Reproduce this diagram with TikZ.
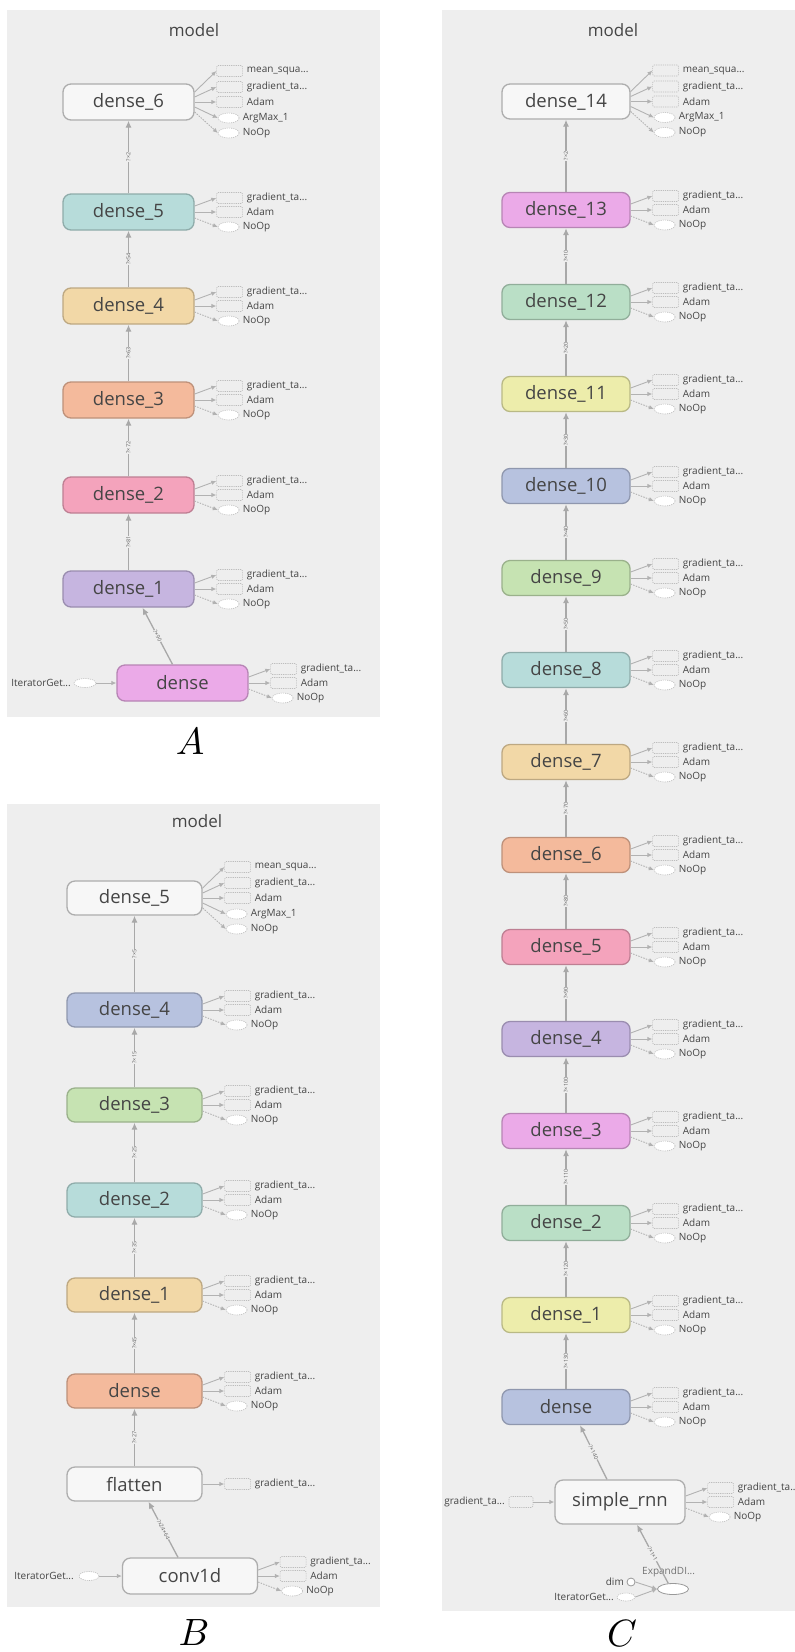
\documentclass[tikz,border=0pt]{standalone}
\usepackage{fontspec}
\setmainfont{Open Sans}
\usetikzlibrary{arrows.meta,shapes.geometric,calc}
\definecolor{panelbg}{HTML}{EEEEEE}
\definecolor{txt}{HTML}{454545}
\definecolor{edgec}{HTML}{A8A8A8}
\definecolor{oedgec}{HTML}{B2B2B2}
\definecolor{boxc}{HTML}{BDBDBD}
\definecolor{cteal}{HTML}{B7DCDA}
\definecolor{ckhaki}{HTML}{F2D8A7}
\definecolor{csalmon}{HTML}{F4BA9C}
\definecolor{cpink}{HTML}{F4A3BC}
\definecolor{clav}{HTML}{C6B5E0}
\definecolor{corchid}{HTML}{EBAAE8}
\definecolor{cblue}{HTML}{B7C2DF}
\definecolor{cgreen}{HTML}{C6E3B2}
\definecolor{cmint}{HTML}{BADFC6}
\definecolor{cyellow}{HTML}{EDEDAB}
\tikzset{
 opbase/.style={rectangle, rounded corners=8pt, line width=1.3pt, inner sep=0pt, text=txt, font=\fontsize{18.5}{20}\selectfont},
 opc/.style={opbase, fill=#1, draw=#1!78!black},
 opw/.style={opbase, fill=white!97!black, draw=black!32},
 pA/.style={minimum width=131pt, minimum height=36pt},
 pB/.style={minimum width=135pt, minimum height=34pt},
 pC/.style={minimum width=128pt, minimum height=35pt},
 ttl/.style={font=\fontsize{17}{19}\selectfont, text=txt},
 obox/.style={rectangle, rounded corners=1.5pt, draw=boxc, dash pattern=on 1.2pt off 1pt, line width=0.6pt, minimum width=26pt, minimum height=11pt, inner sep=0pt},
 oell/.style={ellipse, fill=white, draw=boxc, dash pattern=on 1.2pt off 1pt, line width=0.6pt, minimum width=21pt, minimum height=10pt, inner sep=0pt},
 solidell/.style={ellipse, fill=white, draw=black!40, line width=0.8pt, minimum width=31pt, minimum height=11pt, inner sep=0pt},
 olbl/.style={anchor=west, font=\fontsize{10}{11}\selectfont, text=txt, inner sep=0pt},
 oedge/.style={draw=oedgec, line width=0.9pt, -{Latex[length=5pt,width=4.5pt]}},
 cedge/.style={oedge, dash pattern=on 1.5pt off 1.2pt},
 medge/.style={draw=edgec, line width=1.3pt, -{Latex[length=7pt,width=6pt]}},
 elbl/.style={sloped, fill=panelbg, inner sep=0.5pt, font=\fontsize{5.5}{6}\selectfont, text=black!62},
 plbl/.style={scale=3.8, inner sep=0pt},
}
\newcommand{\outsthree}[1]{%
 \node[obox] (#1g) at ($(#1.east)+(35,-14)$) {};
 \node[obox] (#1a) at ($(#1.east)+(35,0)$) {};
 \node[oell] (#1n) at ($(#1.east)+(34,15)$) {};
 \node[olbl] (#1gl) at ($(#1.east)+(52,-14)$) {gradient\_ta...};
 \node[olbl] (#1al) at ($(#1.east)+(52,0)$) {Adam};
 \node[olbl] (#1nl) at ($(#1.east)+(48,15)$) {NoOp};
 \draw[oedge] ([yshift=6pt]#1.east) -- (#1g.west);
 \draw[oedge] (#1.east) -- (#1a.west);
 \draw[cedge] ([yshift=-6pt]#1.east) -- (#1n.west);
}
\newcommand{\outsfive}[1]{%
 \node[obox] (#1m) at ($(#1.east)+(35,-31)$) {};
 \node[obox] (#1g) at ($(#1.east)+(35,-15)$) {};
 \node[obox] (#1a) at ($(#1.east)+(35,0)$) {};
 \node[oell] (#1x) at ($(#1.east)+(34,16)$) {};
 \node[oell] (#1n) at ($(#1.east)+(34,31)$) {};
 \node[olbl] (#1ml) at ($(#1.east)+(52,-31)$) {mean\_squa...};
 \node[olbl] (#1gl) at ($(#1.east)+(52,-15)$) {gradient\_ta...};
 \node[olbl] (#1al) at ($(#1.east)+(52,0)$) {Adam};
 \node[olbl] (#1xl) at ($(#1.east)+(48,16)$) {ArgMax\_1};
 \node[olbl] (#1nl) at ($(#1.east)+(48,31)$) {NoOp};
 \draw[oedge] ([yshift=10pt]#1.east) -- (#1m.west);
 \draw[oedge] ([yshift=5pt]#1.east) -- (#1g.west);
 \draw[oedge] (#1.east) -- (#1a.west);
 \draw[oedge] ([yshift=-5pt]#1.east) -- (#1x.west);
 \draw[cedge] ([yshift=-10pt]#1.east) -- (#1n.west);
}
\newcommand{\outsone}[1]{%
 \node[obox] (#1g) at ($(#1.east)+(35,0)$) {};
 \node[olbl] (#1gl) at ($(#1.east)+(52,0)$) {gradient\_ta...};
 \draw[oedge] (#1.east) -- (#1g.west);
}
\begin{document}
\begin{tikzpicture}[x=1pt,y=-1pt]
\useasboundingbox (0,0) rectangle (795,1652);
\fill[white] (0,0) rectangle (795,1652);
\fill[panelbg] (7,10) rectangle (380,717);
\fill[panelbg] (7,804) rectangle (380,1607);
\fill[panelbg] (442,10) rectangle (795,1611);

% ---------- Panel A ----------
\node[ttl] (tA) at (194,30) {model};
\node[opw,pA] (A6) at (128.5,102) {dense\_6};
\node[opc=cteal,pA] (A5) at (128.5,212) {dense\_5};
\node[opc=ckhaki,pA] (A4) at (128.5,306) {dense\_4};
\node[opc=csalmon,pA] (A3) at (128.5,400) {dense\_3};
\node[opc=cpink,pA] (A2) at (128.5,495) {dense\_2};
\node[opc=clav,pA] (A1) at (128.5,589) {dense\_1};
\node[opc=corchid,pA] (A0) at (182.5,683) {dense};
\outsfive{A6}
\outsthree{A5}\outsthree{A4}\outsthree{A3}\outsthree{A2}\outsthree{A1}\outsthree{A0}
\draw[medge] (A5.north) -- node[elbl]{?×2} (A6.south);
\draw[medge] (A4.north) -- node[elbl]{?×54} (A5.south);
\draw[medge] (A3.north) -- node[elbl]{?×63} (A4.south);
\draw[medge] (A2.north) -- node[elbl]{?×72} (A3.south);
\draw[medge] (A1.north) -- node[elbl]{?×81} (A2.south);
\draw[medge] ([xshift=-10pt]A0.north) -- node[elbl]{?×90} ([xshift=14pt]A1.south);
\node[oell, minimum width=22pt, minimum height=9pt] (Ait) at (85,683) {};
\node[olbl, anchor=east] (Aitl) at (71,683) {IteratorGet...};
\draw[oedge] (Ait.east) -- (A0.west);
\node[plbl] (lA) at (190,742) {$A$};

% ---------- Panel B ----------
\node[ttl] (tB) at (197,821) {model};
\node[opw,pB] (B5) at (134.5,898) {dense\_5};
\node[opc=cblue,pB] (B4) at (134.5,1010) {dense\_4};
\node[opc=cgreen,pB] (B3) at (134.5,1105) {dense\_3};
\node[opc=cteal,pB] (B2) at (134.5,1200) {dense\_2};
\node[opc=ckhaki,pB] (B1) at (134.5,1295) {dense\_1};
\node[opc=csalmon,pB] (B0) at (134.5,1391) {dense};
\node[opw,pB] (Bfl) at (134.5,1484) {flatten};
\node[opw,pB,minimum height=36pt] (Bcv) at (190,1576) {conv1d};
\outsfive{B5}
\outsthree{B4}\outsthree{B3}\outsthree{B2}\outsthree{B1}\outsthree{B0}
\outsone{Bfl}
\outsthree{Bcv}
\draw[medge] (B4.north) -- node[elbl]{?×5} (B5.south);
\draw[medge] (B3.north) -- node[elbl]{?×15} (B4.south);
\draw[medge] (B2.north) -- node[elbl]{?×25} (B3.south);
\draw[medge] (B1.north) -- node[elbl]{?×35} (B2.south);
\draw[medge] (B0.north) -- node[elbl]{?×45} (B1.south);
\draw[medge] (Bfl.north) -- node[elbl]{?×27} (B0.south);
\draw[medge] ([xshift=-12pt]Bcv.north) -- node[elbl]{?×24×64} ([xshift=14pt]Bfl.south);
\node[oell, minimum width=20pt, minimum height=9pt] (Bit) at (89,1576) {};
\node[olbl, anchor=east] (Bitl) at (74,1576) {IteratorGet...};
\draw[oedge] (Bit.east) -- (Bcv.west);
\node[plbl] (lB) at (194,1632) {$B$};

% ---------- Panel C ----------
\node[ttl] (tC) at (613,30) {model};
\node[opw,pC] (C14) at (566,101.5) {dense\_14};
\node[opc=corchid,pC] (C13) at (566,210) {dense\_13};
\node[opc=cmint,pC] (C12) at (566,302) {dense\_12};
\node[opc=cyellow,pC] (C11) at (566,394) {dense\_11};
\node[opc=cblue,pC] (C10) at (566,486) {dense\_10};
\node[opc=cgreen,pC] (C9) at (566,578) {dense\_9};
\node[opc=cteal,pC] (C8) at (566,670) {dense\_8};
\node[opc=ckhaki,pC] (C7) at (566,762) {dense\_7};
\node[opc=csalmon,pC] (C6) at (566,855) {dense\_6};
\node[opc=cpink,pC] (C5) at (566,947) {dense\_5};
\node[opc=clav,pC] (C4) at (566,1039) {dense\_4};
\node[opc=corchid,pC] (C3) at (566,1131) {dense\_3};
\node[opc=cmint,pC] (C2) at (566,1223) {dense\_2};
\node[opc=cyellow,pC] (C1) at (566,1315) {dense\_1};
\node[opc=cblue,pC] (C0) at (566,1407) {dense};
\node[opw,minimum width=130pt,minimum height=44pt] (Csr) at (620,1502) {simple\_rnn};
\outsfive{C14}
\outsthree{C13}\outsthree{C12}\outsthree{C11}\outsthree{C10}\outsthree{C9}
\outsthree{C8}\outsthree{C7}\outsthree{C6}\outsthree{C5}\outsthree{C4}
\outsthree{C3}\outsthree{C2}\outsthree{C1}\outsthree{C0}\outsthree{Csr}
\draw[medge] (C13.north) -- node[elbl]{?×2} (C14.south);
\draw[medge] (C12.north) -- node[elbl]{?×10} (C13.south);
\draw[medge] (C11.north) -- node[elbl]{?×20} (C12.south);
\draw[medge] (C10.north) -- node[elbl]{?×30} (C11.south);
\draw[medge] (C9.north) -- node[elbl]{?×40} (C10.south);
\draw[medge] (C8.north) -- node[elbl]{?×50} (C9.south);
\draw[medge] (C7.north) -- node[elbl]{?×60} (C8.south);
\draw[medge] (C6.north) -- node[elbl]{?×70} (C7.south);
\draw[medge] (C5.north) -- node[elbl]{?×80} (C6.south);
\draw[medge] (C4.north) -- node[elbl]{?×90} (C5.south);
\draw[medge] (C3.north) -- node[elbl]{?×100} (C4.south);
\draw[medge] (C2.north) -- node[elbl]{?×110} (C3.south);
\draw[medge] (C1.north) -- node[elbl]{?×120} (C2.south);
\draw[medge] (C0.north) -- node[elbl]{?×130} (C1.south);
\draw[medge] ([xshift=-13pt]Csr.north) -- node[elbl]{?×140} ([xshift=14pt]C0.south);
% left input of simple_rnn
\node[obox, minimum width=24pt] (Csg) at (521,1502) {};
\node[olbl, anchor=east] (Csgl) at (505,1502) {gradient\_ta...};
\draw[oedge] (Csg.east) -- (Csr.west);
% ExpandDims cluster
\node[solidell] (CEx) at (673,1589) {};
\node[olbl, text=black!55] (CExl) at (642,1572) {ExpandDI...};
\node[circle, fill=white, draw=black!40, line width=0.8pt, minimum size=8pt, inner sep=0pt] (Cdim) at (631,1582) {};
\node[olbl, anchor=east] (Cdiml) at (624,1582) {dim};
\node[oell, minimum width=18pt, minimum height=8pt] (Cit) at (626,1597) {};
\node[olbl, anchor=east] (Citl) at (614,1597) {IteratorGet...};
\draw[oedge] (Cdim.east) -- (CEx.west);
\draw[oedge] (Cit.east) -- (CEx.west);
\draw[medge] (CEx.130) -- node[elbl]{?×1×1} ([xshift=17pt]Csr.south);
\node[plbl] (lC) at (622,1633) {$C$};
\end{tikzpicture}
\end{document}
